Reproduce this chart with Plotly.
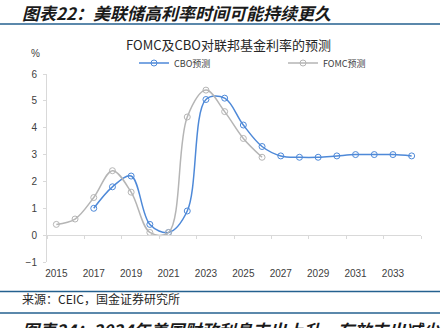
import plotly.graph_objects as go

# Federal funds rate projections (%)
fomc_years = [2015, 2016, 2017, 2018, 2019, 2020, 2021, 2022, 2023, 2024, 2025, 2026]
fomc_rate = [0.4, 0.6, 1.4, 2.4, 1.6, 0.1, 0.1, 4.4, 5.4, 4.6, 3.6, 2.9]

cbo_years = [2017, 2018, 2019, 2020, 2021, 2022, 2023, 2024, 2025, 2026,
             2027, 2028, 2029, 2030, 2031, 2032, 2033, 2034]
cbo_rate = [1.0, 1.8, 2.2, 0.4, 0.1, 0.9, 5.05, 5.1, 4.1, 3.3,
            2.95, 2.9, 2.9, 2.95, 3.0, 3.0, 3.0, 2.95]

label_years = [2015, 2017, 2019, 2021, 2023, 2025, 2027, 2029, 2031, 2033]
tick_bounds = [2014.5, 2016.5, 2018.5, 2020.5, 2022.5, 2024.5, 2026.5,
               2028.5, 2030.5, 2032.5, 2034.5]
y_ticks = [-1, 0, 1, 2, 3, 4, 5, 6]

W, H = 444, 328
L, R, T, B = 47, 23, 74, 66
PW, PH = W - L - R, H - T - B


def px_x(px):
    return (px - L) / PW


def px_y(py):
    return (H - B - py) / PH


BLUE = "#4E89D8"
GRAY = "#B5B5B5"
RULE = "#24618F"
AXIS = "#D9D9D9"

fig = go.Figure()
fig.add_trace(go.Scatter(
    x=cbo_years, y=cbo_rate, name="CBO预测", mode="lines+markers",
    line=dict(color=BLUE, width=1.5, shape="spline", smoothing=1),
    marker=dict(symbol="circle-open", size=6, color=BLUE, line=dict(width=1)),
))
fig.add_trace(go.Scatter(
    x=fomc_years, y=fomc_rate, name="FOMC预测", mode="lines+markers",
    line=dict(color=GRAY, width=1.5, shape="spline", smoothing=1),
    marker=dict(symbol="circle-open", size=6, color=GRAY, line=dict(width=1)),
))
# carrier for the zero-crossing category axis
fig.add_trace(go.Scatter(x=[2015], y=[None], xaxis="x2", showlegend=False,
                         hoverinfo="skip"))

y_min, y_max = -1, 6
fig.update_layout(
    width=W, height=H, autosize=False,
    margin=dict(l=L, r=R, t=T, b=B, autoexpand=False),
    paper_bgcolor="white", plot_bgcolor="white",
    font=dict(family="Liberation Sans, Arial, sans-serif", size=10, color="#404040"),
    xaxis=dict(
        range=[2014.5, 2034.5], tickmode="array", tickvals=label_years,
        ticktext=[str(v) for v in label_years], ticks="", showline=False,
        showgrid=False, zeroline=False, ticklabelstandoff=4, automargin=False,
        tickfont=dict(size=10, color="#404040"),
    ),
    xaxis2=dict(
        range=[2014.5, 2034.5], overlaying="x", anchor="free",
        position=(0 - y_min) / (y_max - y_min), side="bottom",
        tickmode="array", tickvals=tick_bounds, showticklabels=False,
        ticks="outside", ticklen=3, tickcolor=AXIS, showline=True,
        linecolor=AXIS, linewidth=1, showgrid=False, zeroline=False,
        automargin=False,
    ),
    yaxis=dict(
        range=[y_min, y_max], tickmode="array", tickvals=y_ticks,
        ticks="outside", ticklen=3, tickcolor=AXIS, showline=True,
        linecolor=AXIS, linewidth=1, showgrid=False, zeroline=False,
        ticklabelstandoff=4, automargin=False,
        tickfont=dict(size=10, color="#404040"),
    ),
    legend=dict(
        orientation="h", x=px_x(134), y=px_y(63), xanchor="left", yanchor="middle",
        entrywidth=104, entrywidthmode="pixels", bgcolor="rgba(0,0,0,0)",
        font=dict(family="Noto Sans CJK SC, Liberation Sans, sans-serif",
                  size=9, color="#404040"),
        itemwidth=30, tracegroupgap=0,
    ),
    showlegend=True,
)

annotations = [
    dict(text="<b><i>图表22：美联储高利率时间可能持续更久</i></b>",
         x=px_x(20), y=px_y(12), xanchor="left", yanchor="middle", align="left",
         font=dict(family="Noto Sans CJK SC", size=17, color="#1a1a1a")),
    dict(text="FOMC及CBO对联邦基金利率的预测",
         x=px_x(228), y=px_y(44), xanchor="center", yanchor="middle",
         font=dict(family="Noto Sans CJK SC, Liberation Sans", size=13, color="#262626")),
    dict(text="%", x=px_x(35), y=px_y(53), xanchor="center", yanchor="middle",
         font=dict(size=10, color="#404040")),
    dict(text="来源：CEIC，国金证券研究所",
         x=px_x(20), y=px_y(298), xanchor="left", yanchor="middle", align="left",
         font=dict(family="Noto Sans CJK SC", size=12, color="#262626")),
    dict(text="<b><i>图表24：2024年美国财政利息支出上升，有效支出减少</i></b>",
         x=px_x(20), y=px_y(315), xanchor="left", yanchor="top", align="left",
         font=dict(family="Noto Sans CJK SC", size=17, color="#1a1a1a")),
]
for a in annotations:
    a.update(xref="paper", yref="paper", showarrow=False)
fig.update_layout(annotations=annotations)

shapes = []
for py in (24, 291.5, 313):
    shapes.append(dict(type="line", xref="paper", yref="paper",
                       x0=px_x(0), x1=px_x(440), y0=px_y(py), y1=px_y(py),
                       line=dict(color=RULE, width=1.5)))
fig.update_layout(shapes=shapes)

fig.write_html("out.html")
